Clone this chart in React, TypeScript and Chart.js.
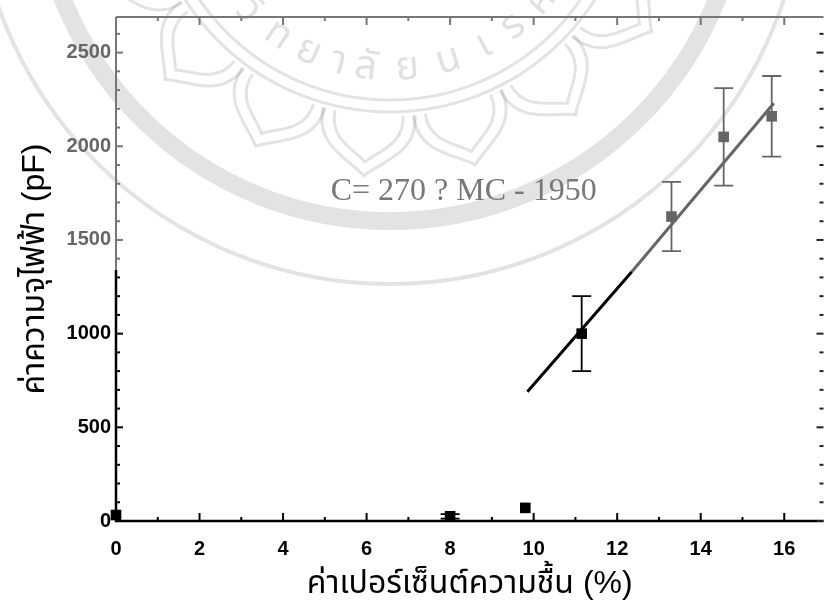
import React, { useEffect, useRef } from "react";
import { Chart, registerables } from "chart.js";

Chart.register(...registerables);

// ---- data ----
const moisture = [0, 8, 9.8, 11.15, 13.3, 14.55, 15.7];
const capacitance = [32, 25, 70, 1000, 1625, 2050, 2160];
const errorValues = [0, 12, 0, 200, 185, 260, 215];
const pointColors = ["#000", "#000", "#000", "#000", "#666", "#666", "#666"];
const fitX = [9.85, 12.35, 15.75];
const fitY = [690, 1330, 2230];
const fitColors = ["#000", "#666"];
const xTickValues = [0, 2, 4, 6, 8, 10, 12, 14, 16];
const yTickValues = [0, 500, 1000, 1500, 2000, 2500];
const equationLabel = "C= 270 ? MC - 1950";
const equationPos = { x: 5.14, y: 1712 };
const xTitle = "ค่าเปอร์เซ็นต์ความชื้น (%)";
const yTitle = "ค่าความจุไฟฟ้า (pF)";
const watermarkText = ["วิ", "ท", "ย", "า", "ลั", "ย", "น", "เ", "ร", "ศ", "ว", "ร"];
const watermarkAngles = [135, 124, 114, 105, 97, 85, 73, 62, 52, 41, 29, 18];
const petalAngles = [10.9, 31.9, 52.9, 73.9, 94.9, 115.9, 136.9, 157.9];
const xRange = { min: 0, max: 16.94, major: 2, minor: 1 };
const yRange = { min: 0, max: 2690, major: 500, minor: 100 };

const sansFont = '"Liberation Sans", Arial, "Noto Sans Thai", "Noto Sans", sans-serif';
const serifFont = '"Liberation Serif", "Times New Roman", serif';

const framePlugin = {
  id: "frameTicks",
  beforeDraw(chart: any) {
    // faint watermark (university seal) behind the plot
    const { ctx } = chart;
    const cx = 390;
    const cy = -131;
    const wm = "rgba(0,0,0,0.11)";
    ctx.save();
    ctx.strokeStyle = wm;
    ctx.lineWidth = 18;
    ctx.beginPath();
    ctx.arc(cx, cy, 352, 0, Math.PI * 2);
    ctx.stroke();
    ctx.lineWidth = 4;
    ctx.beginPath();
    ctx.arc(cx, cy, 415, 0, Math.PI * 2);
    ctx.stroke();
    ctx.lineWidth = 3;
    ctx.beginPath();
    ctx.arc(cx, cy, 231, 0, Math.PI * 2);
    ctx.stroke();
    ctx.beginPath();
    ctx.arc(cx, cy, 243, 0, Math.PI * 2);
    ctx.stroke();
    // petals
    for (const a of petalAngles) {
      const t = (a * Math.PI) / 180;
      ctx.save();
      ctx.translate(cx, cy);
      ctx.rotate(t - Math.PI / 2);
      ctx.beginPath();
      ctx.moveTo(-46, 243);
      ctx.bezierCurveTo(-52, 282, -16, 292, 0, 308);
      ctx.bezierCurveTo(16, 292, 52, 282, 46, 243);
      ctx.stroke();
      ctx.beginPath();
      ctx.moveTo(-34, 245);
      ctx.bezierCurveTo(-38, 274, -12, 282, 0, 294);
      ctx.bezierCurveTo(12, 282, 38, 274, 34, 245);
      ctx.stroke();
      ctx.restore();
    }
    // text along the seal
    ctx.fillStyle = "rgba(0,0,0,0.12)";
    ctx.font = "40px " + sansFont;
    ctx.textAlign = "center";
    ctx.textBaseline = "middle";
    for (let i = 0; i < watermarkText.length; i++) {
      const ang = (watermarkAngles[i] * Math.PI) / 180;
      ctx.save();
      ctx.translate(cx + 200 * Math.cos(ang), cy + 200 * Math.sin(ang));
      ctx.rotate(ang - Math.PI / 2);
      ctx.fillText(watermarkText[i], 0, 0);
      ctx.restore();
    }
    ctx.restore();
  },
  afterDatasetsDraw(chart: any) {
    const { ctx, chartArea } = chart;
    const xs = chart.scales.x;
    const ys = chart.scales.y;
    const { left, right, top, bottom } = chartArea;
    ctx.save();
    // error bars
    for (let i = 0; i < moisture.length; i++) {
      const e = errorValues[i];
      if (!e) continue;
      const px = xs.getPixelForValue(moisture[i]);
      const y1 = ys.getPixelForValue(capacitance[i] + e);
      const y2 = ys.getPixelForValue(capacitance[i] - e);
      ctx.strokeStyle = pointColors[i];
      ctx.lineWidth = 1.8;
      ctx.beginPath();
      ctx.moveTo(px, y1);
      ctx.lineTo(px, y2);
      ctx.moveTo(px - 9.5, y1);
      ctx.lineTo(px + 9.5, y1);
      ctx.moveTo(px - 9.5, y2);
      ctx.lineTo(px + 9.5, y2);
      ctx.stroke();
    }
    // frame
    const splitY = ys.getPixelForValue(1340);
    ctx.lineCap = "butt";
    ctx.strokeStyle = "#777";
    ctx.lineWidth = 2;
    ctx.beginPath();
    ctx.moveTo(left, top);
    ctx.lineTo(right, top);
    ctx.moveTo(left, top);
    ctx.lineTo(left, splitY);
    ctx.stroke();
    ctx.strokeStyle = "#000";
    ctx.lineWidth = 2.5;
    ctx.beginPath();
    ctx.moveTo(left, splitY);
    ctx.lineTo(left, bottom);
    ctx.lineTo(right, bottom);
    ctx.stroke();
    // x ticks (bottom and top)
    ctx.lineWidth = 2;
    for (let v = xRange.min; v <= xRange.max + 1e-9; v += xRange.minor) {
      const px = xs.getPixelForValue(v);
      const major = Math.abs(v % xRange.major) < 1e-9;
      const len = major ? 8 : 4;
      ctx.strokeStyle = "#000";
      ctx.beginPath();
      ctx.moveTo(px, bottom);
      ctx.lineTo(px, bottom - len);
      ctx.stroke();
      ctx.strokeStyle = "#777";
      ctx.beginPath();
      ctx.moveTo(px, top);
      ctx.lineTo(px, top + len);
      ctx.stroke();
    }
    // y ticks (left and right)
    for (let v = yRange.min; v <= yRange.max + 1e-9; v += yRange.minor) {
      const py = ys.getPixelForValue(v);
      const major = Math.abs(v % yRange.major) < 1e-9;
      const len = major ? 7 : 4;
      ctx.strokeStyle = v >= 1340 ? "#777" : "#000";
      ctx.beginPath();
      ctx.moveTo(left, py);
      ctx.lineTo(left + len, py);
      ctx.stroke();
      ctx.strokeStyle = "#222";
      ctx.beginPath();
      ctx.moveTo(right, py);
      ctx.lineTo(right - len, py);
      ctx.stroke();
    }
    // equation annotation
    ctx.fillStyle = "#777";
    ctx.font = "32px " + serifFont;
    ctx.textBaseline = "alphabetic";
    ctx.textAlign = "left";
    ctx.fillText(equationLabel, xs.getPixelForValue(equationPos.x), ys.getPixelForValue(equationPos.y));
    ctx.restore();
  },
};

export default function App() {
  const ref = useRef<HTMLCanvasElement | null>(null);
  useEffect(() => {
    document.body.style.margin = "0";
    const canvas = ref.current;
    if (!canvas) return;
    const chart = new Chart(canvas, {
      data: {
        datasets: [
          {
            type: "line",
            data: fitX.map((x, i) => ({ x, y: fitY[i] })),
            borderWidth: 3,
            pointRadius: 0,
            fill: false,
            segment: {
              borderColor: (c: any) => fitColors[c.p0DataIndex] || "#666",
            },
            borderColor: "#000",
          } as any,
          {
            type: "scatter",
            data: moisture.map((x, i) => ({ x, y: capacitance[i] })),
            pointStyle: "rect",
            pointRadius: 7.5,
            pointBackgroundColor: pointColors,
            pointBorderWidth: 0,
            borderWidth: 0,
            clip: false,
          } as any,
        ],
      },
      options: {
        animation: false,
        responsive: false,
        maintainAspectRatio: false,
        layout: { padding: { top: 12, right: 0, left: 0, bottom: 0 } },
        plugins: { legend: { display: false }, tooltip: { enabled: false } },
        scales: {
          x: {
            type: "linear",
            min: xRange.min,
            max: xRange.max,
            border: { display: false },
            grid: { display: false, drawTicks: false },
            afterBuildTicks: (s: any) => {
              s.ticks = xTickValues.map((value) => ({ value }));
            },
            ticks: {
              padding: 16,
              color: "#000",
              callback: (v: any) => String(v),
              font: { family: sansFont, size: 20, weight: "bold" },
            },
            title: {
              display: true,
              text: xTitle,
              color: "#000",
              font: { family: sansFont, size: 32 },
              padding: { top: 0, bottom: 7 },
            },
            afterFit: (s: any) => {
              s.height = 89;
            },
          },
          y: {
            type: "linear",
            min: yRange.min,
            max: yRange.max,
            border: { display: false },
            grid: { display: false, drawTicks: false },
            afterBuildTicks: (s: any) => {
              s.ticks = yTickValues.map((value) => ({ value }));
            },
            ticks: {
              padding: 5,
              color: (c: any) => (c.tick && c.tick.value >= 1500 ? "#666" : "#000"),
              callback: (v: any) => String(v),
              font: { family: sansFont, size: 20, weight: "bold" },
            },
            title: {
              display: true,
              text: yTitle,
              color: "#000",
              font: { family: sansFont, size: 32 },
              padding: { top: 16, bottom: 0 },
            },
            afterFit: (s: any) => {
              s.width = 116;
            },
          },
        },
      } as any,
      plugins: [framePlugin],
    });
    return () => chart.destroy();
  }, []);
  return (
    <div style={{ position: "relative", width: 831, height: 610, background: "#fff" }}>
      <canvas ref={ref} width={831} height={610} style={{ display: "block" }} />
    </div>
  );
}
